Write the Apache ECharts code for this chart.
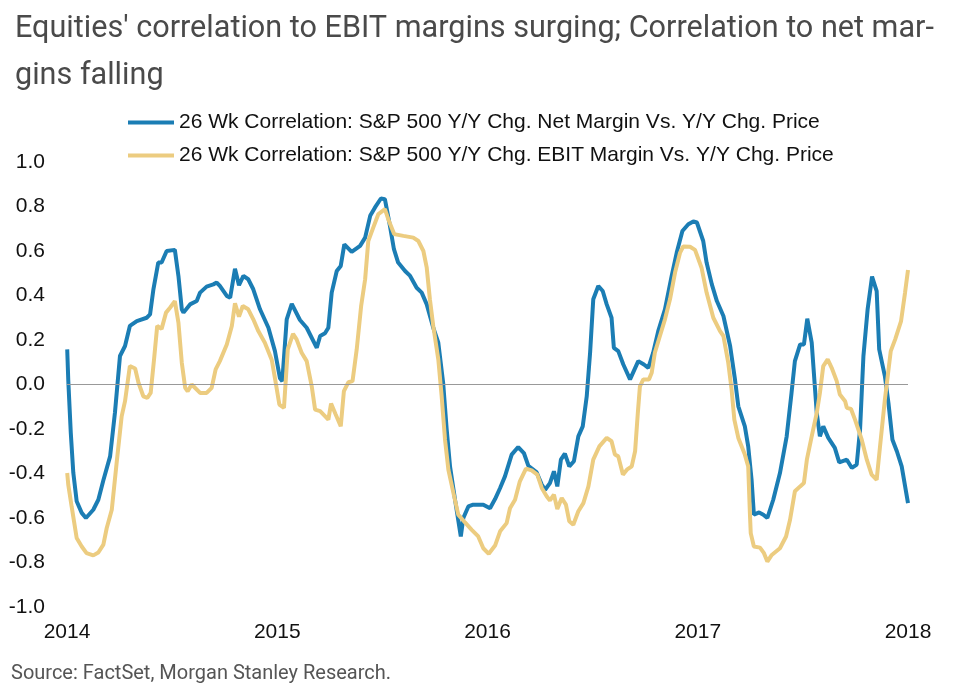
<!DOCTYPE html>
<html><head><meta charset="utf-8">
<script src="https://cdn.jsdelivr.net/npm/echarts@6/dist/echarts.min.js"></script>
<style>html,body{margin:0;padding:0;background:#fff}#c{width:960px;height:693px}</style>
</head><body><div id="c"></div>
<script>
var titleText = "Equities' correlation to EBIT margins surging; Correlation to net mar-\ngins falling";
var sourceText = "Source: FactSet, Morgan Stanley Research.";
var seriesNames = [
  "26 Wk Correlation: S&P 500 Y/Y Chg. Net Margin Vs. Y/Y Chg. Price",
  "26 Wk Correlation: S&P 500 Y/Y Chg. EBIT Margin Vs. Y/Y Chg. Price"
];
var yearTicks = [2014, 2015, 2016, 2017, 2018];

// Net margin correlation (blue): years since start of 2014, value
var netT = [0.001,0.006,0.018,0.030,0.046,0.070,0.090,0.125,0.149,0.173,0.205,0.228,0.252,0.276,0.299,0.332,0.379,0.395,0.411,0.434,0.450,0.474,0.513,0.530,0.546,0.554,0.585,0.617,0.633,0.664,0.696,0.712,0.727,0.760,0.776,0.799,0.818,0.839,0.862,0.886,0.918,0.958,0.989,1.013,1.024,1.045,1.069,1.108,1.140,1.188,1.204,1.227,1.243,1.259,1.283,1.302,1.319,1.354,1.394,1.418,1.442,1.465,1.493,1.512,1.536,1.555,1.575,1.608,1.632,1.663,1.687,1.711,1.742,1.766,1.789,1.806,1.822,1.846,1.873,1.885,1.909,1.932,1.980,2.012,2.036,2.060,2.083,2.115,2.146,2.173,2.194,2.234,2.258,2.274,2.297,2.316,2.332,2.349,2.368,2.389,2.411,2.432,2.453,2.472,2.488,2.503,2.527,2.548,2.567,2.590,2.601,2.622,2.646,2.678,2.717,2.744,2.765,2.788,2.812,2.844,2.876,2.900,2.927,2.955,2.979,2.996,3.026,3.042,3.067,3.091,3.122,3.154,3.177,3.193,3.224,3.240,3.256,3.267,3.292,3.312,3.331,3.359,3.391,3.423,3.446,3.462,3.487,3.505,3.521,3.542,3.558,3.566,3.581,3.597,3.621,3.652,3.673,3.709,3.733,3.756,3.772,3.788,3.808,3.829,3.851,3.863,3.890,3.907,3.926,3.947,3.970,4.000];
var netV = [0.158,0.02,-0.217,-0.397,-0.525,-0.577,-0.60,-0.563,-0.518,-0.43,-0.323,-0.127,0.128,0.173,0.263,0.285,0.30,0.315,0.428,0.548,0.548,0.60,0.605,0.488,0.338,0.323,0.36,0.375,0.413,0.44,0.45,0.458,0.443,0.398,0.39,0.52,0.446,0.488,0.473,0.428,0.338,0.255,0.15,0.028,0.015,0.293,0.362,0.29,0.255,0.165,0.218,0.23,0.255,0.413,0.51,0.533,0.63,0.596,0.623,0.66,0.758,0.796,0.836,0.833,0.713,0.608,0.548,0.51,0.488,0.435,0.413,0.36,0.255,0.188,0.008,-0.203,-0.37,-0.52,-0.683,-0.6,-0.548,-0.54,-0.54,-0.556,-0.515,-0.465,-0.413,-0.315,-0.281,-0.308,-0.365,-0.395,-0.45,-0.473,-0.443,-0.39,-0.458,-0.338,-0.311,-0.368,-0.345,-0.233,-0.188,-0.053,0.143,0.383,0.443,0.42,0.36,0.30,0.165,0.15,0.09,0.023,0.105,0.09,0.075,0.143,0.24,0.338,0.488,0.593,0.69,0.72,0.733,0.728,0.645,0.548,0.45,0.375,0.308,0.173,0.023,-0.098,-0.188,-0.278,-0.428,-0.585,-0.575,-0.585,-0.60,-0.518,-0.398,-0.233,-0.038,0.105,0.18,0.18,0.296,0.188,-0.023,-0.128,-0.233,-0.188,-0.24,-0.285,-0.35,-0.338,-0.375,-0.36,-0.203,0.128,0.338,0.485,0.42,0.158,0.038,-0.083,-0.248,-0.30,-0.368,-0.533];

// EBIT margin correlation (gold): years since start of 2014, value
var ebitT = [0.001,0.006,0.022,0.046,0.070,0.093,0.125,0.149,0.173,0.189,0.213,0.236,0.260,0.276,0.299,0.324,0.340,0.363,0.382,0.398,0.414,0.429,0.450,0.471,0.490,0.513,0.530,0.546,0.562,0.574,0.593,0.633,0.664,0.688,0.707,0.727,0.760,0.784,0.799,0.818,0.836,0.862,0.886,0.910,0.941,0.974,0.990,1.010,1.032,1.050,1.075,1.092,1.116,1.140,1.164,1.180,1.204,1.243,1.256,1.278,1.302,1.317,1.338,1.358,1.378,1.399,1.418,1.433,1.457,1.481,1.512,1.528,1.556,1.600,1.647,1.671,1.695,1.711,1.726,1.742,1.766,1.782,1.798,1.814,1.838,1.861,1.893,1.925,1.956,1.980,2.006,2.036,2.060,2.091,2.107,2.131,2.154,2.183,2.210,2.237,2.258,2.282,2.297,2.316,2.332,2.353,2.373,2.389,2.408,2.432,2.456,2.480,2.503,2.532,2.567,2.590,2.606,2.622,2.644,2.663,2.686,2.702,2.715,2.725,2.741,2.768,2.781,2.796,2.820,2.844,2.868,2.892,2.916,2.931,2.963,2.987,3.018,3.042,3.074,3.106,3.122,3.145,3.161,3.174,3.193,3.224,3.240,3.248,3.252,3.267,3.296,3.315,3.331,3.352,3.391,3.420,3.439,3.462,3.487,3.505,3.519,3.542,3.566,3.581,3.597,3.618,3.637,3.661,3.676,3.701,3.709,3.729,3.748,3.780,3.804,3.827,3.851,3.867,3.890,3.918,3.939,3.967,3.986,4.000];
var ebitV = [-0.398,-0.45,-0.548,-0.69,-0.728,-0.758,-0.768,-0.755,-0.72,-0.645,-0.563,-0.353,-0.143,-0.075,0.083,0.072,0.008,-0.053,-0.06,-0.038,0.113,0.263,0.25,0.323,0.345,0.375,0.278,0.098,-0.015,-0.03,0.0,-0.038,-0.038,-0.015,0.068,0.105,0.18,0.263,0.365,0.305,0.353,0.338,0.293,0.24,0.188,0.11,0.023,-0.09,-0.105,0.158,0.228,0.203,0.143,0.105,-0.008,-0.113,-0.12,-0.158,-0.086,-0.135,-0.188,-0.03,0.01,0.015,0.158,0.353,0.473,0.645,0.706,0.766,0.788,0.743,0.676,0.668,0.66,0.645,0.60,0.525,0.383,0.263,0.113,-0.053,-0.248,-0.383,-0.488,-0.585,-0.62,-0.653,-0.683,-0.736,-0.761,-0.724,-0.66,-0.623,-0.556,-0.518,-0.435,-0.378,-0.386,-0.405,-0.465,-0.503,-0.521,-0.495,-0.56,-0.51,-0.54,-0.615,-0.63,-0.57,-0.533,-0.458,-0.338,-0.278,-0.24,-0.255,-0.315,-0.323,-0.405,-0.383,-0.368,-0.30,-0.128,-0.008,0.023,0.023,0.053,0.143,0.218,0.293,0.383,0.503,0.593,0.62,0.619,0.605,0.525,0.413,0.30,0.24,0.218,0.098,-0.023,-0.158,-0.24,-0.315,-0.368,-0.578,-0.668,-0.728,-0.733,-0.758,-0.796,-0.766,-0.736,-0.683,-0.608,-0.48,-0.458,-0.443,-0.338,-0.233,-0.128,-0.038,0.083,0.113,0.075,0.015,-0.045,-0.075,-0.105,-0.11,-0.158,-0.248,-0.338,-0.405,-0.428,-0.278,-0.068,0.15,0.203,0.285,0.413,0.515];

function pairs(t, v) {
  var out = [];
  for (var i = 0; i < t.length; i++) out.push([yearTicks[0] + t[i], v[i]]);
  return out;
}

var chart = echarts.init(document.getElementById('c'));
chart.setOption({
  animation: false,
  backgroundColor: '#ffffff',
  title: {
    text: titleText,
    left: 10, top: 1,
    textStyle: { fontFamily: 'Roboto', fontWeight: 'normal', fontSize: 30.6, color: '#4a4a4a', lineHeight: 47 }
  },
  legend: {
    orient: 'vertical', left: 123, top: 107,
    icon: 'rect', itemWidth: 46, itemHeight: 4, itemGap: 12,
    textStyle: { fontFamily: 'Liberation Sans', fontSize: 21, color: '#111' },
    data: seriesNames
  },
  graphic: [{
    type: 'text', left: 11, top: 664,
    style: { text: sourceText, font: '20px Roboto', fill: '#555' }
  }],
  grid: { left: 67, right: 52, top: 162, bottom: 86 },
  xAxis: {
    type: 'value', min: yearTicks[0], max: yearTicks[yearTicks.length - 1], interval: 1,
    axisLine: { show: false }, axisTick: { show: false }, splitLine: { show: false },
    axisLabel: { margin: 15, fontFamily: 'Liberation Sans', fontSize: 21, color: '#111',
      formatter: function (v) { return String(Math.round(v)); } }
  },
  yAxis: {
    type: 'value', min: -1, max: 1, interval: 0.2,
    axisLine: { show: false }, axisTick: { show: false }, splitLine: { show: false },
    axisLabel: { margin: 22, fontFamily: 'Liberation Sans', fontSize: 21, color: '#111',
      formatter: function (v) { return v.toFixed(1); } }
  },
  series: [{
    name: seriesNames[0], type: 'line', data: pairs(netT, netV),
    showSymbol: false, color: '#1b7db4',
    lineStyle: { width: 4, color: '#1b7db4' },
    markLine: {
      silent: true, symbol: 'none', label: { show: false },
      lineStyle: { color: '#999', width: 1.2, type: 'solid' },
      data: [{ yAxis: 0 }]
    }
  }, {
    name: seriesNames[1], type: 'line', data: pairs(ebitT, ebitV),
    showSymbol: false, color: '#eccc80',
    lineStyle: { width: 4, color: '#eccc80' }
  }]
});
</script>
</body></html>
